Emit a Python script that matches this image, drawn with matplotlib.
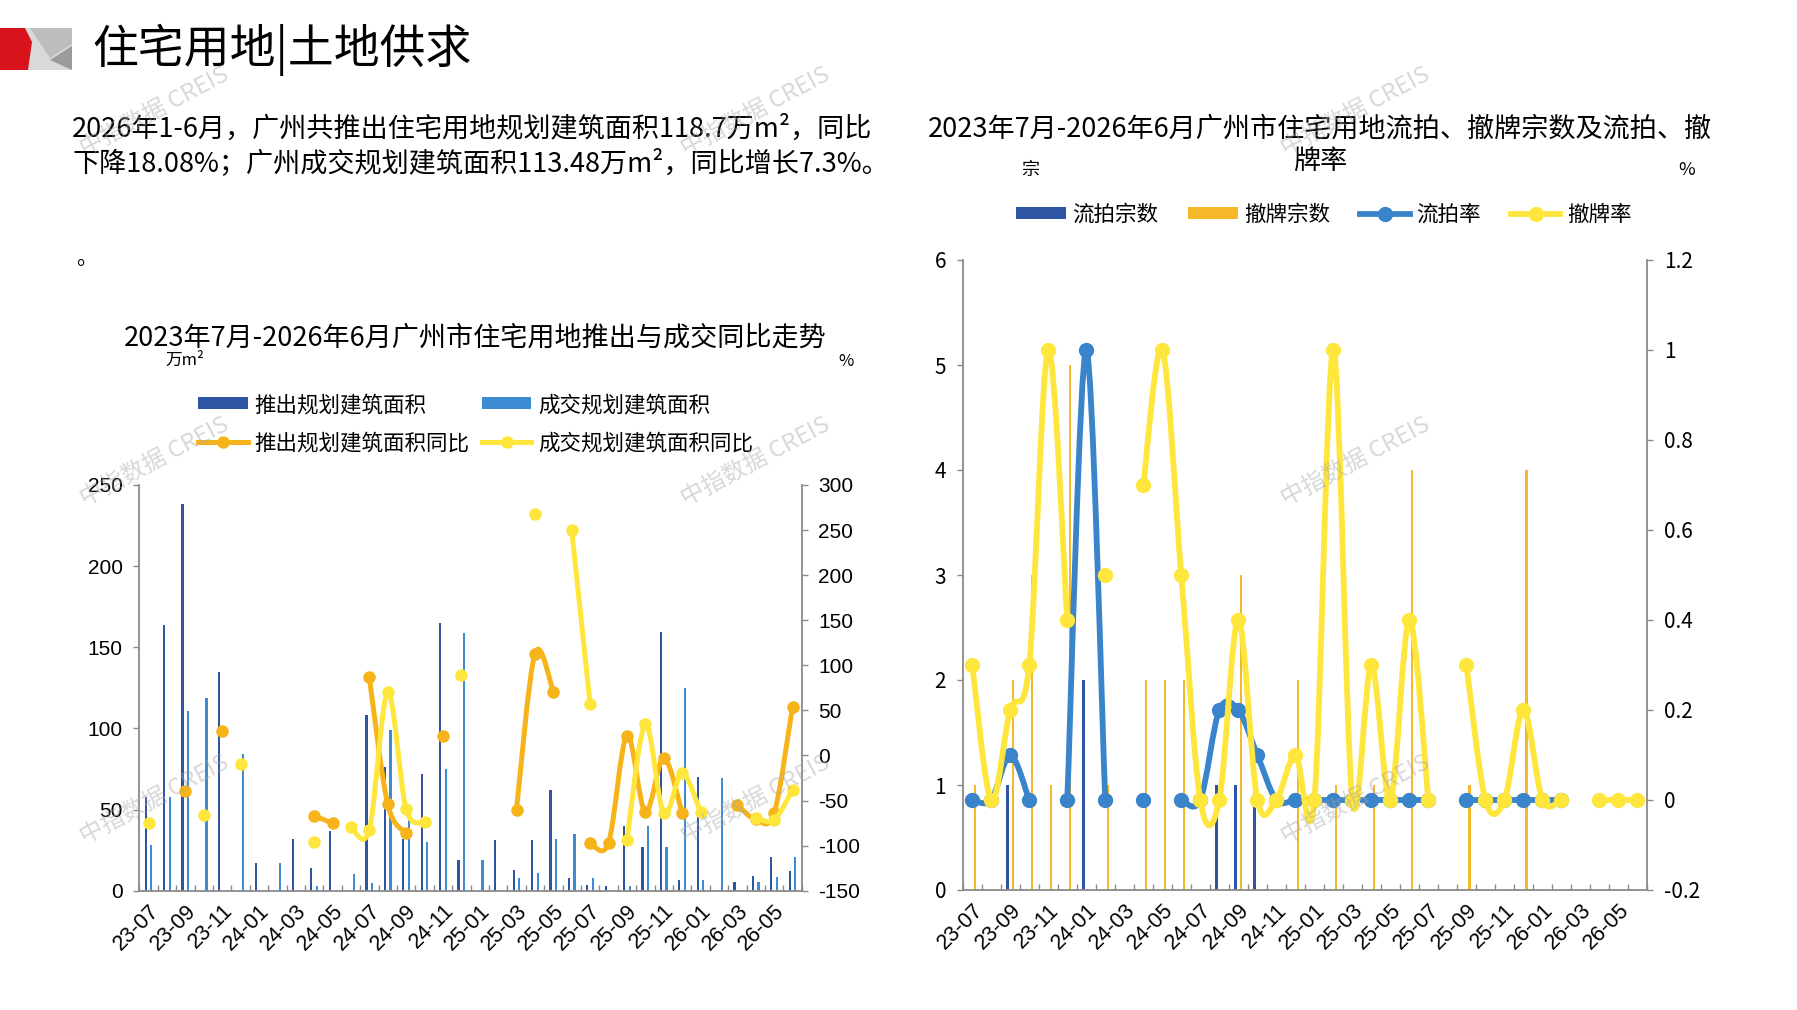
import numpy as np
import matplotlib
matplotlib.use('Agg')
import matplotlib.pyplot as plt
from matplotlib.path import Path
from matplotlib.patches import PathPatch, Polygon, Patch
from matplotlib.lines import Line2D

CJK = ['Noto Sans CJK SC', 'DejaVu Sans']
LAT = ['Liberation Sans', 'DejaVu Sans']
plt.rcParams['font.family'] = CJK

nan = np.nan

# --- data -------------------------------------------------------------
months = ['23-07', '23-08', '23-09', '23-10', '23-11', '23-12',
          '24-01', '24-02', '24-03', '24-04', '24-05', '24-06',
          '24-07', '24-08', '24-09', '24-10', '24-11', '24-12',
          '25-01', '25-02', '25-03', '25-04', '25-05', '25-06',
          '25-07', '25-08', '25-09', '25-10', '25-11', '25-12',
          '26-01', '26-02', '26-03', '26-04', '26-05', '26-06']

# 万m2
tuichu_area = [58, 164, 238, 0, 135, 0, 17, 0, 32, 14, 37, 0,
               108, 76, 32, 72, 165, 19, 0, 31, 13, 31, 62, 7.6,
               3.5, 3, 40, 27, 159.5, 6.6, 70, 0, 5.5, 9, 21, 12]
chengjiao_area = [28, 58, 111, 118.5, 0, 84, 0, 17, 0, 3, 0, 10,
                  5, 99, 45, 30, 75, 159, 19, 0, 8, 11, 32, 35,
                  7.6, 0, 3, 40, 27, 124.6, 6.6, 69.4, 0, 5.1, 8.6, 21]
# %
tuichu_yoy = [nan, nan, -39, nan, 27.5, nan, nan, nan, nan, -67, -75, nan,
              86.6, -54, -86, nan, 22, nan, nan, nan, -60, 113, 70.7, nan,
              -97, -97, 22, -63, -2.5, -63.5, nan, nan, -55, -71, -64, 54]
chengjiao_yoy = [-75, nan, nan, -66, nan, -9, nan, nan, nan, -96, nan, -79,
                 -82.7, 70, -59.5, -74, nan, 89, nan, nan, nan, 267.7, nan, 250,
                 57, nan, -94, 34.5, -64, -20, -62.4, nan, nan, -69, -71.6, -38]

# 宗
liupai_cnt = [0, 0, 1, 0, 0, 0, 2, 0, 0, 0, 0, 0,
              0, 1, 1, 1, 0, 0, 0, 0, 0, 0, 0, 0,
              0, 0, 0, 0, 0, 0, 0, 0, 0, 0, 0, 0]
chepai_cnt = [1, 0, 2, 3, 1, 5, 0, 1, 0, 2, 2, 2,
              0, 0, 3, 0, 0, 2, 0, 1, 0, 1, 0, 4,
              0, 0, 1, 0, 0, 4, 0, 0, 0, 0, 0, 0]
# rate
liupai_rate = [0, 0, 0.1, 0, nan, 0, 1.0, 0, nan, 0, nan, 0,
               0, 0.2, 0.2, 0.1, 0, 0, 0, 0, 0, 0, 0, 0,
               0, nan, 0, 0, 0, 0, 0, 0, nan, nan, nan, nan]
chepai_rate = [0.3, 0, 0.2, 0.3, 1.0, 0.4, nan, 0.5, nan, 0.7, 1.0, 0.5,
               0, 0, 0.4, 0, 0, 0.1, 0, 1.0, 0, 0.3, 0, 0.4,
               0, nan, 0.3, 0, 0, 0.2, 0, 0, nan, 0, 0, 0]

DARK = '#2D55A3'
LIGHT = '#3E8BD5'
ORANGE = '#F6B31A'
YELLOW = '#FFE63C'
BLUE = '#3A84CB'
BARORANGE = '#F5B82A'
GREY = '#8A8A8A'

W, H = 1797, 1010


def smooth_line(ax, xs, ys, color, lw, ms, z):
    # excel style smoothed line, broken at gaps
    ys = np.asarray(ys, float)
    ok = ~np.isnan(ys)
    runs = []
    start = None
    for i in range(len(ys)):
        if ok[i] and start is None:
            start = i
        if start is not None and (not ok[i] or i == len(ys) - 1):
            end = i + 1 if ok[i] else i
            runs.append((start, end))
            start = None
    for s, e in runs:
        px, py = xs[s:e], ys[s:e]
        n = len(px)
        if n < 2:
            continue
        verts = [(px[0], py[0])]
        codes = [Path.MOVETO]
        for k in range(n - 1):
            k0 = max(k - 1, 0)
            k3 = min(k + 2, n - 1)
            c1 = (px[k] + (px[k + 1] - px[k0]) / 6, py[k] + (py[k + 1] - py[k0]) / 6)
            c2 = (px[k + 1] - (px[k3] - px[k]) / 6, py[k + 1] - (py[k3] - py[k]) / 6)
            verts += [c1, c2, (px[k + 1], py[k + 1])]
            codes += [Path.CURVE4] * 3
        ax.add_patch(PathPatch(Path(verts, codes), fill=False, edgecolor=color,
                               lw=lw, capstyle='round', joinstyle='round', zorder=z))
    ax.plot(xs, ys, 'o', color=color, ms=ms, ls='none', zorder=z + 0.1)


def style_axes(ax, axr, ymin, ymax, ystep, rmin, rmax, rstep, rfmt, tickfam):
    x = np.arange(len(months))
    ax.set_xlim(-0.5, len(months) - 0.5)
    ax.set_ylim(ymin, ymax)
    axr.set_ylim(rmin, rmax)
    ax.set_yticks(np.arange(ymin, ymax + ystep / 2, ystep))
    rt = np.round(np.arange(rmin, rmax + rstep / 2, rstep), 6)
    axr.set_yticks(rt)
    axr.set_yticklabels([rfmt(v) for v in rt])
    ax.set_xticks(x[::2])
    ax.set_xticklabels(months[::2], rotation=45, ha='right', va='top',
                       rotation_mode='anchor', fontsize=15.5, family=LAT)
    ax.set_xticks(np.arange(-0.5, len(months), 1), minor=True)
    ax.tick_params(axis='x', which='major', length=0, pad=7)
    ax.tick_params(axis='x', which='minor', direction='in', length=4, width=1, color=GREY)
    ax.tick_params(axis='y', length=4, width=1, color=GREY, pad=8, labelsize=15)
    axr.tick_params(axis='y', length=4, width=1, color=GREY, pad=8, labelsize=15)
    for lbl in ax.get_yticklabels() + axr.get_yticklabels():
        lbl.set_family(tickfam)
    ax.spines['top'].set_visible(False)
    ax.spines['right'].set_visible(False)
    for s in ['top', 'left', 'bottom']:
        axr.spines[s].set_visible(False)
    for sp in [ax.spines['left'], ax.spines['bottom'], axr.spines['right']]:
        sp.set_color(GREY)
        sp.set_linewidth(1.3)


fig = plt.figure(figsize=(W / 100, H / 100), dpi=100)
fig.patch.set_facecolor('white')

# header logo
fig.patches.append(Polygon([(25, 28), (72, 28), (72, 70), (25, 70)], closed=True,
                           facecolor='#D9D9D9', edgecolor='none'))
fig.patches.append(Polygon([(30, 28), (72, 28), (72, 44), (50, 58)], closed=True,
                           facecolor='#BDBDBD', edgecolor='none'))
fig.patches.append(Polygon([(72, 46), (50, 60), (72, 70)], closed=True,
                           facecolor='#9B9B9B', edgecolor='none'))
fig.patches.append(Polygon([(0, 28), (25, 28), (32, 42), (28, 70), (0, 70)], closed=True,
                           facecolor='#D7141B', edgecolor='none'))
for p in fig.patches:
    p.set_transform(matplotlib.transforms.Affine2D().scale(1, -1).translate(0, H))

fig.text(92 / W, 1 - 50 / H, '住宅用地|土地供求', fontsize=33, ha='left', va='center')
fig.text(72 / W, 1 - 129 / H, '2026年1-6月，广州共推出住宅用地规划建筑面积118.7万m²，同比',
         fontsize=19.5, ha='left', va='center', family=CJK)
fig.text(72 / W, 1 - 163 / H, '下降18.08%；广州成交规划建筑面积113.48万m²，同比增长7.3%。',
         fontsize=19.5, ha='left', va='center', family=CJK)
fig.text(76 / W, 1 - 258 / H, '。', fontsize=15, ha='left', va='center')

# ---------------- left chart ----------------
x = np.arange(len(months))
ax1 = fig.add_axes([139.3 / W, 1 - 890.7 / H, (801.7 - 139.3) / W, (890.7 - 485) / H])
ax1.bar(x - 0.15, tuichu_area, 0.12, color=DARK, zorder=2)
ax1.bar(x + 0.15, chengjiao_area, 0.12, color=LIGHT, zorder=2)
ax1b = ax1.twinx()
smooth_line(ax1b, x, tuichu_yoy, ORANGE, 3.6, 8, 3)
smooth_line(ax1b, x, chengjiao_yoy, YELLOW, 3.6, 8, 4)
style_axes(ax1, ax1b, 0, 250, 50, -150, 300, 50, lambda v: f'{v:g}', LAT)

fig.text(475 / W, 1 - 338 / H, '2023年7月-2026年6月广州市住宅用地推出与成交同比走势',
         fontsize=19.5, ha='center', va='center')
fig.text(185 / W, 1 - 360 / H, '万m²', fontsize=12, ha='center', va='center')
fig.text(846 / W, 1 - 362 / H, '%', fontsize=12, ha='center', va='center')

h_left = [Patch(facecolor=DARK),
          Line2D([], [], color=ORANGE, lw=3.6, marker='o', ms=8),
          Patch(facecolor=LIGHT),
          Line2D([], [], color=YELLOW, lw=3.6, marker='o', ms=8)]
l_left = ['推出规划建筑面积', '推出规划建筑面积同比', '成交规划建筑面积', '成交规划建筑面积同比']
fig.legend(h_left, l_left, ncol=2, loc='upper left', bbox_to_anchor=(198 / W, 1 - 394 / H),
           frameon=False, fontsize=15.5, handlelength=2.3, handleheight=0.5,
           handletextpad=0.3, columnspacing=0.6, labelspacing=0.75, borderpad=0,
           borderaxespad=0)

# ---------------- right chart ----------------
ax2 = fig.add_axes([962.7 / W, 1 - 890 / H, (1647 - 962.7) / W, (890 - 260) / H])
ax2.bar(x - 0.15, liupai_cnt, 0.13, color=DARK, zorder=2)
ax2.bar(x + 0.15, chepai_cnt, 0.13, color=BARORANGE, zorder=2)
ax2b = ax2.twinx()
smooth_line(ax2b, x, liupai_rate, BLUE, 4.2, 10, 3)
smooth_line(ax2b, x, chepai_rate, YELLOW, 4.2, 10, 4)
style_axes(ax2, ax2b, 0, 6, 1, -0.2, 1.2, 0.2, lambda v: f'{v:g}', CJK)

fig.text(1320 / W, 1 - 129 / H, '2023年7月-2026年6月广州市住宅用地流拍、撤牌宗数及流拍、撤',
         fontsize=19.5, ha='center', va='center')
fig.text(1320 / W, 1 - 161 / H, '牌率', fontsize=19.5, ha='center', va='center')
fig.text(1030 / W, 1 - 170 / H, '宗', fontsize=13, ha='center', va='center')
fig.text(1687 / W, 1 - 170 / H, '%', fontsize=13, ha='center', va='center')

h_right = [Patch(facecolor=DARK), Patch(facecolor=BARORANGE),
           Line2D([], [], color=BLUE, lw=4.2, marker='o', ms=10),
           Line2D([], [], color=YELLOW, lw=4.2, marker='o', ms=10)]
l_right = ['流拍宗数', '撤牌宗数', '流拍率', '撤牌率']
fig.legend(h_right, l_right, ncol=4, loc='upper left', bbox_to_anchor=(1016 / W, 1 - 204 / H),
           frameon=False, fontsize=15.5, handlelength=2.3, handleheight=0.5,
           handletextpad=0.3, columnspacing=1.4, borderpad=0, borderaxespad=0)

# watermarks
for wx in [155, 756, 1356]:
    for wy in [112, 462, 800]:
        fig.text(wx / W, 1 - wy / H, '中指数据 CREIS', fontsize=17, rotation=28,
                 color='#A8A8A8', alpha=0.45, ha='center', va='center', zorder=20)

fig.savefig('out.png', dpi=100, facecolor='white')
